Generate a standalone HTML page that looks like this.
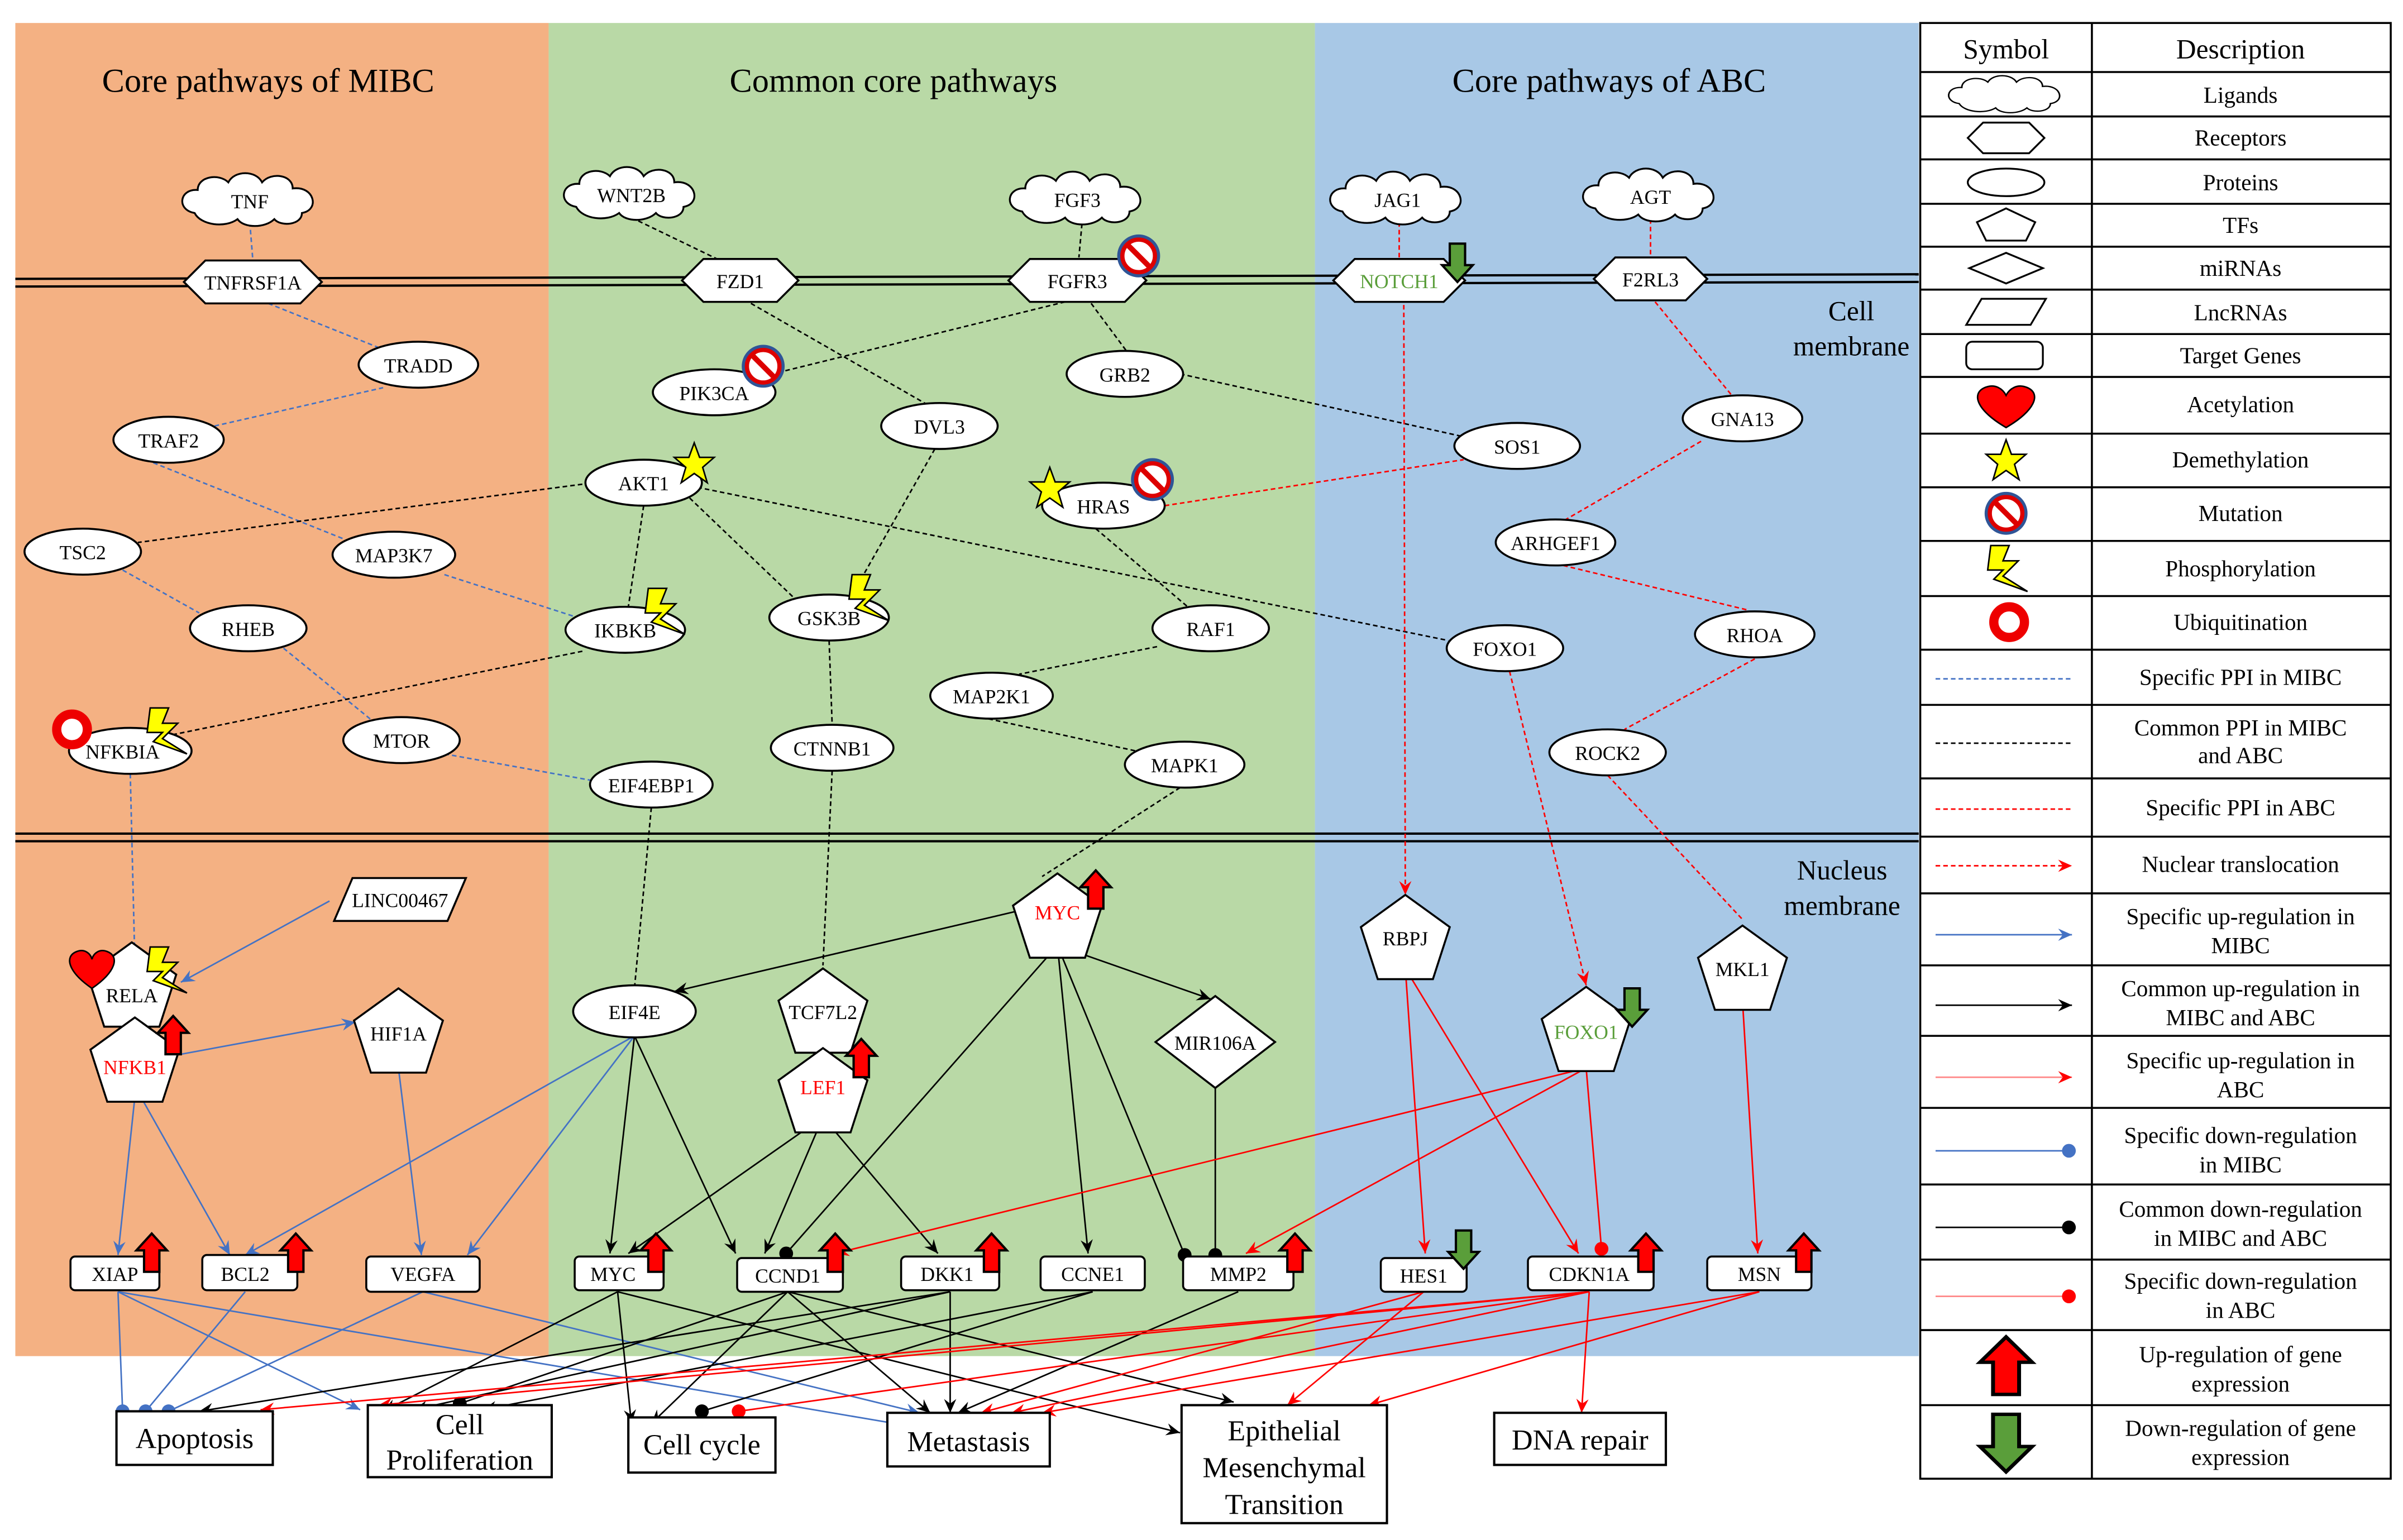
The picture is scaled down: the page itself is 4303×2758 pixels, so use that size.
<!DOCTYPE html>
<html><head><meta charset="utf-8"><style>
html,body{margin:0;padding:0;background:#fff;}
svg{display:block;font-family:"Liberation Serif","DejaVu Serif",serif;}
svg text{font-family:"Liberation Serif","DejaVu Serif",serif;}
</style></head><body>
<svg width="4303" height="2758" viewBox="0 0 1568 1005" preserveAspectRatio="none" xmlns="http://www.w3.org/2000/svg" font-family="Liberation Serif, DejaVu Serif, serif">
<defs>
<marker id="ab" markerWidth="10" markerHeight="10" refX="9" refY="5" orient="auto" markerUnits="userSpaceOnUse"><path d="M0,1 L9,5 L0,9 L3,5z" fill="#000"/></marker>
<marker id="au" markerWidth="10" markerHeight="10" refX="9" refY="5" orient="auto" markerUnits="userSpaceOnUse"><path d="M0,1 L9,5 L0,9 L3,5z" fill="#4472c4"/></marker>
<marker id="ar" markerWidth="10" markerHeight="10" refX="9" refY="5" orient="auto" markerUnits="userSpaceOnUse"><path d="M0,1 L9,5 L0,9 L3,5z" fill="#f00"/></marker>
<marker id="db" markerWidth="10" markerHeight="10" refX="5" refY="5" markerUnits="userSpaceOnUse"><circle cx="5" cy="5" r="4.5" fill="#000"/></marker>
<marker id="du" markerWidth="10" markerHeight="10" refX="5" refY="5" markerUnits="userSpaceOnUse"><circle cx="5" cy="5" r="4.5" fill="#4472c4"/></marker>
<marker id="dr" markerWidth="10" markerHeight="10" refX="5" refY="5" markerUnits="userSpaceOnUse"><circle cx="5" cy="5" r="4.5" fill="#f00"/></marker>
<g id="up"><polygon points="0,-13 10,-2 5,-2 5,12 -5,12 -5,-2 -10,-2" fill="#f00" stroke="#000" stroke-width="1.5"/></g>
<g id="dn"><polygon points="0,13 10,2 5,2 5,-12 -5,-12 -5,2 -10,2" fill="#5a9e3a" stroke="#000" stroke-width="1.5"/></g>
<g id="no"><circle r="11" fill="#fff" stroke="#d00" stroke-width="3.5"/><line x1="-7.5" y1="-7.5" x2="7.5" y2="7.5" stroke="#d00" stroke-width="3.5"/><circle r="13" fill="none" stroke="#2f5597" stroke-width="2"/></g>
<g id="st"><polygon points="0,-14 3.5,-4.5 13,-4.5 5.5,2 8.5,12 0,6 -8.5,12 -5.5,2 -13,-4.5 -3.5,-4.5" fill="#ff0" stroke="#000" stroke-width="1"/></g>
<g id="bo"><polygon points="-10,-14 2,-14 -2,-4 8,-4 -2,6 14,16 -8,8 -2,2 -12,2" fill="#ff0" stroke="#000" stroke-width="1"/></g>
<g id="cl"><path d="M-36,8 C-48,6 -46,-8 -34,-7 C-34,-16 -20,-18 -14,-12 C-10,-20 4,-20 8,-12 C14,-19 28,-17 28,-8 C42,-10 46,6 34,8 C34,16 20,17 16,12 C10,18 -4,18 -8,12 C-16,18 -32,16 -36,8z" fill="#fff" stroke="#000" stroke-width="1.2"/></g>
</defs>
<rect x="10" y="15" width="348" height="870" fill="#f4b183"/>
<rect x="358" y="15" width="500" height="870" fill="#b9d9a6"/>
<rect x="858" y="15" width="394" height="870" fill="#a8c8e6"/>
<text x="175" y="60" font-size="22" text-anchor="middle">Core pathways of MIBC</text>
<text x="583" y="60" font-size="22" text-anchor="middle">Common core pathways</text>
<text x="1050" y="60" font-size="22" text-anchor="middle">Core pathways of ABC</text>
<line x1="10" y1="182" x2="1252" y2="179" stroke="#000" stroke-width="1.5"/>
<line x1="10" y1="187" x2="1252" y2="184" stroke="#000" stroke-width="1.5"/>
<line x1="10" y1="544" x2="1252" y2="544" stroke="#000" stroke-width="1.5"/>
<line x1="10" y1="549" x2="1252" y2="549" stroke="#000" stroke-width="1.5"/>
<text x="1208" y="209" font-size="18" text-anchor="middle">Cell</text>
<text x="1208" y="232" font-size="18" text-anchor="middle">membrane</text>
<text x="1202" y="574" font-size="18" text-anchor="middle">Nucleus</text>
<text x="1202" y="597" font-size="18" text-anchor="middle">membrane</text>

<g stroke="#4472c4" stroke-width="1" stroke-dasharray="3,2" fill="none">
<line x1="163" y1="145" x2="165" y2="170"/>
<line x1="175" y1="198" x2="250" y2="228"/>
<line x1="140" y1="278" x2="250" y2="253"/>
<line x1="100" y1="302" x2="225" y2="352"/>
<line x1="80" y1="372" x2="130" y2="400"/>
<line x1="185" y1="423" x2="245" y2="472"/>
<line x1="290" y1="375" x2="380" y2="404"/>
<line x1="290" y1="492" x2="390" y2="510"/>
<line x1="85" y1="505" x2="88" y2="628"/>
</g>
<g stroke="#000" stroke-width="1" stroke-dasharray="3,2" fill="none">
<line x1="412" y1="142" x2="470" y2="170"/>
<line x1="490" y1="198" x2="605" y2="264"/>
<line x1="706" y1="146" x2="704" y2="168"/>
<line x1="695" y1="197" x2="500" y2="245"/>
<line x1="712" y1="198" x2="735" y2="229"/>
<line x1="770" y1="244" x2="955" y2="285"/>
<line x1="380" y1="316" x2="90" y2="354"/>
<line x1="420" y1="330" x2="410" y2="396"/>
<line x1="450" y1="325" x2="520" y2="392"/>
<line x1="455" y1="318" x2="945" y2="418"/>
<line x1="610" y1="293" x2="555" y2="390"/>
<line x1="380" y1="425" x2="110" y2="480"/>
<line x1="541" y1="418" x2="543" y2="473"/>
<line x1="715" y1="345" x2="775" y2="396"/>
<line x1="755" y1="422" x2="665" y2="440"/>
<line x1="640" y1="468" x2="750" y2="492"/>
<line x1="770" y1="514" x2="680" y2="572"/>
<line x1="425" y1="527" x2="414" y2="645"/>
<line x1="543" y1="503" x2="537" y2="630"/>
</g>
<g stroke="#f00" stroke-width="1" stroke-dasharray="3,2" fill="none">
<line x1="1077" y1="143" x2="1077" y2="166"/>
<line x1="1080" y1="197" x2="1130" y2="258"/>
<line x1="1110" y1="288" x2="1020" y2="340"/>
<line x1="1020" y1="369" x2="1140" y2="398"/>
<line x1="1145" y1="430" x2="1060" y2="476"/>
<line x1="760" y1="330" x2="955" y2="300"/>
<line x1="1049" y1="506" x2="1137" y2="600"/>
<line x1="913" y1="145" x2="913" y2="168"/>
<line x1="916" y1="199" x2="917" y2="584" marker-end="url(#ar)"/>
<line x1="985" y1="438" x2="1035" y2="643" marker-end="url(#ar)"/>
</g>
<g stroke="#4472c4" stroke-width="1" fill="none">
<line x1="215" y1="588" x2="118" y2="641" marker-end="url(#au)"/>
<line x1="118" y1="688" x2="232" y2="667" marker-end="url(#au)"/>
<line x1="88" y1="716" x2="77" y2="819" marker-end="url(#au)"/>
<line x1="92" y1="716" x2="150" y2="819" marker-end="url(#au)"/>
<line x1="260" y1="697" x2="275" y2="819" marker-end="url(#au)"/>
<line x1="414" y1="676" x2="160" y2="819" marker-end="url(#au)"/>
<line x1="414" y1="676" x2="305" y2="819" marker-end="url(#au)"/>
<line x1="77" y1="843" x2="235" y2="920" marker-end="url(#au)"/>
<line x1="77" y1="843" x2="590" y2="930" marker-end="url(#au)"/>
<line x1="276" y1="843" x2="600" y2="922" marker-end="url(#au)"/>
<line x1="77" y1="843" x2="80" y2="921" marker-end="url(#du)"/>
<line x1="160" y1="843" x2="95" y2="921" marker-end="url(#du)"/>
<line x1="276" y1="843" x2="110" y2="921" marker-end="url(#du)"/>
</g>
<g stroke="#000" stroke-width="1" fill="none">
<line x1="662" y1="595" x2="440" y2="647" marker-end="url(#ab)"/>
<line x1="690" y1="617" x2="513" y2="818" marker-end="url(#db)"/>
<line x1="690" y1="617" x2="710" y2="818" marker-end="url(#ab)"/>
<line x1="690" y1="617" x2="790" y2="652" marker-end="url(#ab)"/>
<line x1="690" y1="617" x2="773" y2="819" marker-end="url(#db)"/>
<line x1="793" y1="709" x2="793" y2="819" marker-end="url(#db)"/>
<line x1="414" y1="676" x2="398" y2="818" marker-end="url(#ab)"/>
<line x1="414" y1="676" x2="480" y2="818" marker-end="url(#ab)"/>
<line x1="537" y1="729" x2="410" y2="818" marker-end="url(#ab)"/>
<line x1="537" y1="729" x2="499" y2="818" marker-end="url(#ab)"/>
<line x1="537" y1="729" x2="612" y2="818" marker-end="url(#ab)"/>
<line x1="403" y1="843" x2="250" y2="921" marker-end="url(#ab)"/>
<line x1="403" y1="843" x2="412" y2="929" marker-end="url(#ab)"/>
<line x1="403" y1="843" x2="770" y2="935" marker-end="url(#ab)"/>
<line x1="514" y1="843" x2="300" y2="916" marker-end="url(#db)"/>
<line x1="514" y1="843" x2="425" y2="929" marker-end="url(#ab)"/>
<line x1="514" y1="843" x2="607" y2="922" marker-end="url(#ab)"/>
<line x1="514" y1="843" x2="805" y2="915" marker-end="url(#ab)"/>
<line x1="620" y1="843" x2="130" y2="921" marker-end="url(#ab)"/>
<line x1="620" y1="843" x2="270" y2="920" marker-end="url(#ab)"/>
<line x1="620" y1="843" x2="620" y2="922" marker-end="url(#ab)"/>
<line x1="713" y1="843" x2="315" y2="920" marker-end="url(#ab)"/>
<line x1="713" y1="843" x2="458" y2="921" marker-end="url(#db)"/>
<line x1="808" y1="843" x2="625" y2="922" marker-end="url(#ab)"/>
</g>
<g stroke="#f00" stroke-width="1" fill="none">
<line x1="1035" y1="697" x2="545" y2="818" marker-end="url(#ar)"/>
<line x1="1035" y1="697" x2="813" y2="818" marker-end="url(#ar)"/>
<line x1="1035" y1="697" x2="1045" y2="815" marker-end="url(#dr)"/>
<line x1="917" y1="632" x2="930" y2="818" marker-end="url(#ar)"/>
<line x1="917" y1="632" x2="1030" y2="818" marker-end="url(#ar)"/>
<line x1="1137" y1="653" x2="1147" y2="818" marker-end="url(#ar)"/>
<line x1="1037" y1="843" x2="170" y2="920" marker-end="url(#ar)"/>
<line x1="1037" y1="843" x2="247" y2="917" marker-end="url(#ar)"/>
<line x1="1037" y1="843" x2="482" y2="921" marker-end="url(#dr)"/>
<line x1="1037" y1="843" x2="660" y2="922" marker-end="url(#ar)"/>
<line x1="1037" y1="843" x2="1032" y2="922" marker-end="url(#ar)"/>
<line x1="929" y1="843" x2="640" y2="922" marker-end="url(#ar)"/>
<line x1="929" y1="843" x2="840" y2="917" marker-end="url(#ar)"/>
<line x1="1148" y1="843" x2="680" y2="922" marker-end="url(#ar)"/>
<line x1="1148" y1="843" x2="893" y2="917" marker-end="url(#ar)"/>
</g>

<g font-size="13" text-anchor="middle">
<use href="#cl" x="163" y="131"/><text x="163" y="136">TNF</text>
<use href="#cl" x="412" y="127"/><text x="412" y="132">WNT2B</text>
<use href="#cl" x="703" y="130"/><text x="703" y="135">FGF3</text>
<use href="#cl" x="912" y="130"/><text x="912" y="135">JAG1</text>
<use href="#cl" x="1077" y="128"/><text x="1077" y="133">AGT</text>
</g>
<g font-size="13" text-anchor="middle" stroke-width="1.3">
<polygon points="120,184 134,170 196,170 210,184 196,198 134,198" fill="#fff" stroke="#000"/><text x="165" y="189">TNFRSF1A</text>
<polygon points="445,183 459,169 507,169 521,183 507,197 459,197" fill="#fff" stroke="#000"/><text x="483" y="188">FZD1</text>
<polygon points="658,183 672,169 734,169 748,183 734,197 672,197" fill="#fff" stroke="#000"/><text x="703" y="188">FGFR3</text>
<polygon points="870,183 884,169 942,169 956,183 942,197 884,197" fill="#fff" stroke="#000"/><text x="913" y="188" fill="#5a9e3a">NOTCH1</text>
<polygon points="1040,182 1054,168 1100,168 1114,182 1100,196 1054,196" fill="#fff" stroke="#000"/><text x="1077" y="187">F2RL3</text>
</g>
<g font-size="13" text-anchor="middle">
<g fill="#fff" stroke="#000" stroke-width="1.3">
<ellipse cx="273" cy="238" rx="39" ry="15"/><ellipse cx="110" cy="287" rx="36" ry="15"/>
<ellipse cx="54" cy="360" rx="38" ry="15"/><ellipse cx="257" cy="362" rx="40" ry="15"/>
<ellipse cx="162" cy="410" rx="38" ry="15"/><ellipse cx="262" cy="483" rx="38" ry="15"/>
<ellipse cx="85" cy="490" rx="40" ry="15"/><ellipse cx="466" cy="256" rx="40" ry="15"/>
<ellipse cx="613" cy="278" rx="38" ry="15"/><ellipse cx="734" cy="244" rx="38" ry="15"/>
<ellipse cx="420" cy="315" rx="38" ry="15"/><ellipse cx="720" cy="330" rx="40" ry="15"/>
<ellipse cx="408" cy="411" rx="39" ry="15"/><ellipse cx="541" cy="403" rx="39" ry="15"/>
<ellipse cx="790" cy="410" rx="38" ry="15"/><ellipse cx="647" cy="454" rx="40" ry="15"/>
<ellipse cx="543" cy="488" rx="40" ry="15"/><ellipse cx="773" cy="499" rx="39" ry="15"/>
<ellipse cx="425" cy="512" rx="40" ry="15"/><ellipse cx="990" cy="291" rx="41" ry="15"/>
<ellipse cx="1137" cy="273" rx="39" ry="15"/><ellipse cx="1015" cy="354" rx="39" ry="15"/>
<ellipse cx="1145" cy="414" rx="39" ry="15"/><ellipse cx="982" cy="423" rx="38" ry="15"/>
<ellipse cx="1049" cy="491" rx="38" ry="15"/><ellipse cx="414" cy="660" rx="40" ry="17"/>
</g>
<text x="273" y="243">TRADD</text><text x="110" y="292">TRAF2</text><text x="54" y="365">TSC2</text>
<text x="257" y="367">MAP3K7</text><text x="162" y="415">RHEB</text><text x="262" y="488">MTOR</text>
<text x="80" y="495">NFKBIA</text><text x="466" y="261">PIK3CA</text><text x="613" y="283">DVL3</text>
<text x="734" y="249">GRB2</text><text x="420" y="320">AKT1</text><text x="720" y="335">HRAS</text>
<text x="408" y="416">IKBKB</text><text x="541" y="408">GSK3B</text><text x="790" y="415">RAF1</text>
<text x="647" y="459">MAP2K1</text><text x="543" y="493">CTNNB1</text><text x="773" y="504">MAPK1</text>
<text x="425" y="517">EIF4EBP1</text><text x="990" y="296">SOS1</text><text x="1137" y="278">GNA13</text>
<text x="1015" y="359">ARHGEF1</text><text x="1145" y="419">RHOA</text><text x="982" y="428">FOXO1</text>
<text x="1049" y="496">ROCK2</text><text x="414" y="665">EIF4E</text>
</g>
<g font-size="13" text-anchor="middle">
<g fill="#fff" stroke="#000" stroke-width="1.3">
<polygon points="86,615 115,636 104,670 68,670 57,636"/>
<polygon points="88,664 117,685 106,719 70,719 59,685"/>
<polygon points="260,645 289,666 278,700 242,700 231,666"/>
<polygon points="690,570 719,591 708,625 672,625 661,591"/>
<polygon points="537,632 566,653 555,687 519,687 508,653"/>
<polygon points="537,684 566,705 555,739 519,739 508,705"/>
<polygon points="917,584 946,605 935,639 899,639 888,605"/>
<polygon points="1035,644 1064,665 1053,699 1017,699 1006,665"/>
<polygon points="1137,604 1166,625 1155,659 1119,659 1108,625"/>
</g>
<text x="86" y="654">RELA</text><text x="88" y="701" fill="#f00">NFKB1</text><text x="260" y="679">HIF1A</text>
<text x="690" y="600" fill="#f00">MYC</text><text x="537" y="665">TCF7L2</text><text x="537" y="714" fill="#f00">LEF1</text>
<text x="917" y="617">RBPJ</text><text x="1035" y="678" fill="#5a9e3a">FOXO1</text><text x="1137" y="637">MKL1</text>
</g>
<polygon points="218,601 230,573 304,573 292,601" fill="#fff" stroke="#000" stroke-width="1.3"/>
<text x="261" y="592" font-size="13" text-anchor="middle">LINC00467</text>
<polygon points="793,650 832,680 793,710 754,680" fill="#fff" stroke="#000" stroke-width="1.3"/>
<text x="793" y="685" font-size="13" text-anchor="middle">MIR106A</text>
<g font-size="13" text-anchor="middle">
<g fill="#fff" stroke="#000" stroke-width="1.3">
<rect x="46" y="820" width="58" height="22" rx="3"/><rect x="132" y="819" width="62" height="23" rx="3"/>
<rect x="239" y="820" width="74" height="23" rx="3"/><rect x="375" y="820" width="58" height="22" rx="3"/>
<rect x="481" y="821" width="69" height="22" rx="3"/><rect x="588" y="820" width="64" height="22" rx="3"/>
<rect x="679" y="820" width="68" height="22" rx="3"/><rect x="772" y="820" width="72" height="22" rx="3"/>
<rect x="901" y="821" width="56" height="22" rx="3"/><rect x="997" y="820" width="82" height="22" rx="3"/>
<rect x="1114" y="820" width="68" height="22" rx="3"/>
</g>
<text x="75" y="836">XIAP</text><text x="160" y="836">BCL2</text><text x="276" y="836">VEGFA</text>
<text x="400" y="836">MYC</text><text x="514" y="837">CCND1</text><text x="618" y="836">DKK1</text>
<text x="713" y="836">CCNE1</text><text x="808" y="836">MMP2</text><text x="929" y="837">HES1</text>
<text x="1037" y="836">CDKN1A</text><text x="1148" y="836">MSN</text>
</g>
<g fill="#fff" stroke="#000" stroke-width="1.5">
<rect x="76" y="921" width="102" height="35"/><rect x="240" y="917" width="120" height="47"/>
<rect x="410" y="925" width="96" height="36"/><rect x="579" y="922" width="106" height="35"/>
<rect x="771" y="917" width="134" height="77"/><rect x="975" y="922" width="112" height="34"/>
</g>
<g font-size="19" text-anchor="middle">
<text x="127" y="945">Apoptosis</text><text x="300" y="936">Cell</text><text x="300" y="959">Proliferation</text>
<text x="458" y="949">Cell cycle</text><text x="632" y="947">Metastasis</text>
<text x="838" y="940">Epithelial</text><text x="838" y="964">Mesenchymal</text><text x="838" y="988">Transition</text>
<text x="1031" y="946">DNA repair</text>
</g>
<use href="#up" x="113" y="676"/><use href="#up" x="715" y="581"/><use href="#up" x="562" y="691"/>
<use href="#dn" x="1065" y="657"/><use href="#dn" x="951" y="171"/>
<use href="#up" x="99" y="818"/><use href="#up" x="193" y="818"/><use href="#up" x="428" y="818"/>
<use href="#up" x="545" y="818"/><use href="#up" x="647" y="818"/><use href="#up" x="845" y="818"/>
<use href="#dn" x="955" y="815"/><use href="#up" x="1074" y="818"/><use href="#up" x="1177" y="818"/>
<use href="#no" x="743" y="167"/><use href="#no" x="498" y="239"/><use href="#no" x="752" y="313"/>
<use href="#st" x="453" y="303"/><use href="#st" x="685" y="319"/>
<use href="#bo" x="433" y="398"/><use href="#bo" x="566" y="389"/><use href="#bo" x="108" y="476"/><use href="#bo" x="108" y="632"/>
<circle cx="47" cy="476" r="10" fill="#fff" stroke="#e00" stroke-width="6"/>
<path d="M60,645 C44,634 42,624 50,621 C55,619 59,622 60,626 C61,622 65,619 70,621 C78,624 76,634 60,645z" fill="#f00" stroke="#000" stroke-width="1"/>

<g stroke="#000" stroke-width="1.3" fill="none">
<rect x="1253" y="15" width="307" height="950"/>
<line x1="1365" y1="15" x2="1365" y2="965"/>
<line x1="1253" y1="47" x2="1560" y2="47"/><line x1="1253" y1="76" x2="1560" y2="76"/>
<line x1="1253" y1="104" x2="1560" y2="104"/><line x1="1253" y1="133" x2="1560" y2="133"/>
<line x1="1253" y1="161" x2="1560" y2="161"/><line x1="1253" y1="189" x2="1560" y2="189"/>
<line x1="1253" y1="218" x2="1560" y2="218"/><line x1="1253" y1="246" x2="1560" y2="246"/>
<line x1="1253" y1="283" x2="1560" y2="283"/><line x1="1253" y1="318" x2="1560" y2="318"/>
<line x1="1253" y1="353" x2="1560" y2="353"/><line x1="1253" y1="389" x2="1560" y2="389"/>
<line x1="1253" y1="424" x2="1560" y2="424"/><line x1="1253" y1="460" x2="1560" y2="460"/>
<line x1="1253" y1="508" x2="1560" y2="508"/><line x1="1253" y1="546" x2="1560" y2="546"/>
<line x1="1253" y1="583" x2="1560" y2="583"/><line x1="1253" y1="630" x2="1560" y2="630"/>
<line x1="1253" y1="676" x2="1560" y2="676"/><line x1="1253" y1="723" x2="1560" y2="723"/>
<line x1="1253" y1="773" x2="1560" y2="773"/><line x1="1253" y1="822" x2="1560" y2="822"/>
<line x1="1253" y1="868" x2="1560" y2="868"/><line x1="1253" y1="917" x2="1560" y2="917"/>
</g>
<g font-size="15" text-anchor="middle">
<text x="1309" y="38" font-size="18">Symbol</text><text x="1462" y="38" font-size="18">Description</text>
<text x="1462" y="67">Ligands</text><text x="1462" y="95">Receptors</text><text x="1462" y="124">Proteins</text>
<text x="1462" y="152">TFs</text><text x="1462" y="180">miRNAs</text><text x="1462" y="209">LncRNAs</text>
<text x="1462" y="237">Target Genes</text><text x="1462" y="269">Acetylation</text><text x="1462" y="305">Demethylation</text>
<text x="1462" y="340">Mutation</text><text x="1462" y="376">Phosphorylation</text><text x="1462" y="411">Ubiquitination</text>
<text x="1462" y="447">Specific PPI in MIBC</text>
<text x="1462" y="480">Common PPI in MIBC</text><text x="1462" y="498">and ABC</text>
<text x="1462" y="532">Specific PPI in ABC</text><text x="1462" y="569">Nuclear translocation</text>
<text x="1462" y="603">Specific up-regulation in</text><text x="1462" y="622">MIBC</text>
<text x="1462" y="650">Common up-regulation in</text><text x="1462" y="669">MIBC and ABC</text>
<text x="1462" y="697">Specific up-regulation in</text><text x="1462" y="716">ABC</text>
<text x="1462" y="746">Specific down-regulation</text><text x="1462" y="765">in MIBC</text>
<text x="1462" y="794">Common down-regulation</text><text x="1462" y="813">in MIBC and ABC</text>
<text x="1462" y="841">Specific down-regulation</text><text x="1462" y="860">in ABC</text>
<text x="1462" y="889">Up-regulation of gene</text><text x="1462" y="908">expression</text>
<text x="1462" y="937">Down-regulation of gene</text><text x="1462" y="956">expression</text>
</g>
<g transform="translate(1309,62) scale(0.85,0.7)"><use href="#cl"/></g>
<polygon points="1284,90 1294,80 1324,80 1334,90 1324,100 1294,100" fill="#fff" stroke="#000" stroke-width="1.2"/>
<ellipse cx="1309" cy="119" rx="25" ry="9" fill="#fff" stroke="#000" stroke-width="1.2"/>
<polygon points="1309,136 1328,145 1322,157 1296,157 1290,145" fill="#fff" stroke="#000" stroke-width="1.2"/>
<polygon points="1309,165 1333,175 1309,185 1285,175" fill="#fff" stroke="#000" stroke-width="1.2"/>
<polygon points="1283,212 1293,195 1335,195 1325,212" fill="#fff" stroke="#000" stroke-width="1.2"/>
<rect x="1283" y="223" width="50" height="18" rx="4" fill="#fff" stroke="#000" stroke-width="1.2"/>
<path d="M1309,279 C1290,268 1286,257 1295,253 C1302,250 1307,254 1309,258 C1311,254 1316,250 1323,253 C1332,257 1328,268 1309,279z" fill="#f00" stroke="#000" stroke-width="1"/>
<use href="#st" x="1309" y="301"/><use href="#no" x="1309" y="335"/><use href="#bo" x="1309" y="370"/>
<circle cx="1311" cy="406" r="10" fill="#fff" stroke="#e00" stroke-width="6"/>
<line x1="1263" y1="443" x2="1352" y2="443" stroke="#4472c4" stroke-dasharray="3,2"/>
<line x1="1263" y1="485" x2="1352" y2="485" stroke="#000" stroke-dasharray="3,2"/>
<line x1="1263" y1="528" x2="1352" y2="528" stroke="#f00" stroke-dasharray="3,2"/>
<line x1="1263" y1="565" x2="1352" y2="565" stroke="#f00" stroke-dasharray="3,2" marker-end="url(#ar)"/>
<line x1="1263" y1="610" x2="1352" y2="610" stroke="#4472c4" marker-end="url(#au)"/>
<line x1="1263" y1="656" x2="1352" y2="656" stroke="#000" marker-end="url(#ab)"/>
<line x1="1263" y1="703" x2="1352" y2="703" stroke="#f88" marker-end="url(#ar)"/>
<line x1="1263" y1="751" x2="1350" y2="751" stroke="#4472c4" marker-end="url(#du)"/>
<line x1="1263" y1="801" x2="1350" y2="801" stroke="#000" marker-end="url(#db)"/>
<line x1="1263" y1="846" x2="1350" y2="846" stroke="#f88" marker-end="url(#dr)"/>
<g transform="translate(1309,892) scale(1.7,1.5)"><use href="#up"/></g>
<g transform="translate(1309,941) scale(1.7,1.5)"><use href="#dn"/></g>
</svg>
</body></html>
